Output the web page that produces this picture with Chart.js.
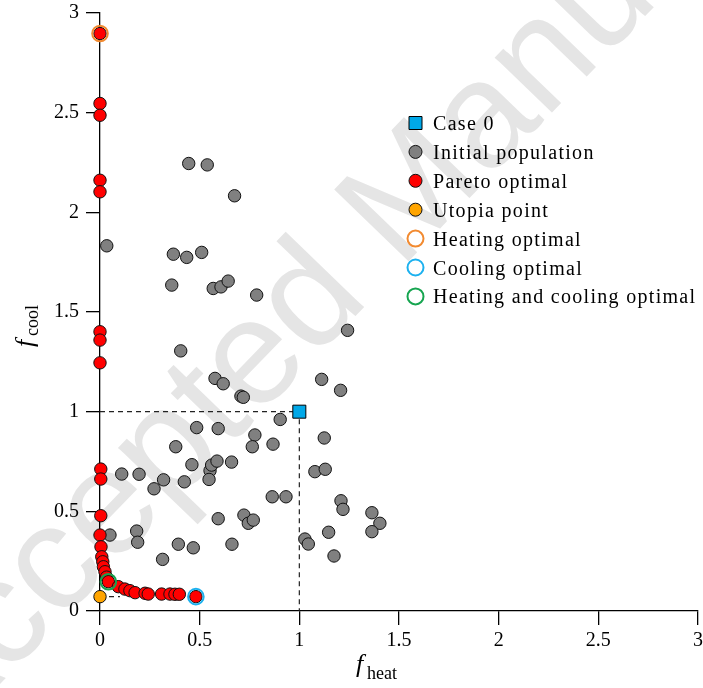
<!DOCTYPE html>
<html lang="en">
<head>
<meta charset="UTF-8">
<title>Pareto front</title>
<script src="https://cdn.jsdelivr.net/npm/chart.js"></script>
<style>
  html, body { margin: 0; padding: 0; background: #fff; }
</style>
</head>
<body>
<canvas id="grafico" width="703" height="688"></canvas>
<script>
  // initial population (f_heat, f_cool)
  const popHeat = [0.034, 0.445, 0.538, 0.675, 0.368, 0.435, 0.510, 0.360, 0.568, 0.607, 0.643, 0.786,
    0.405, 1.242, 0.577, 0.618, 0.707, 0.719, 1.112, 1.207, 0.904, 0.485, 0.593, 0.380, 0.777, 0.764,
    0.868, 1.125, 0.461, 0.552, 0.560, 0.587, 0.660, 0.547, 0.423, 0.271, 0.109, 0.196, 0.319, 1.078,
    1.130, 0.864, 0.933, 1.209, 1.219, 1.364, 1.404, 1.364, 0.722, 0.744, 0.769, 0.593, 0.662, 1.147,
    1.174, 1.028, 1.045, 0.050, 0.184, 0.189, 0.393, 0.468, 0.314];
  const popCool = [1.832, 2.245, 2.238, 2.083, 1.790, 1.774, 1.799, 1.635, 1.618, 1.626, 1.655, 1.585,
    1.305, 1.408, 1.167, 1.140, 1.078, 1.072, 1.162, 1.107, 0.961, 0.920, 0.915, 0.824, 0.883, 0.824,
    0.837, 0.868, 0.734, 0.704, 0.732, 0.752, 0.747, 0.660, 0.648, 0.613, 0.687, 0.686, 0.658, 0.699,
    0.711, 0.573, 0.573, 0.553, 0.510, 0.493, 0.440, 0.398, 0.481, 0.440, 0.456, 0.463, 0.335, 0.395,
    0.276, 0.361, 0.336, 0.381, 0.401, 0.345, 0.335, 0.317, 0.259];

  // pareto optimal set
  const paretoHeat = [0, 0, 0, 0, 0, 0, 0, 0, 0.004, 0.004, 0.004, 0, 0.005, 0.009, 0.014, 0.017, 0.025,
    0.033, 0.042, 0.092, 0.125, 0.150, 0.176, 0.226, 0.242, 0.309, 0.351, 0.376, 0.398, 0.481];
  const paretoCool = [2.897, 2.546, 2.487, 2.161, 2.103, 1.401, 1.359, 1.245, 0.712, 0.662, 0.478, 0.381,
    0.322, 0.272, 0.247, 0.222, 0.197, 0.170, 0.147, 0.122, 0.110, 0.102, 0.092, 0.089, 0.085, 0.085,
    0.085, 0.084, 0.084, 0.072];

  const case0 = [1, 1];
  const utopia = [0, 0.072];
  const heatOpt = [0, 2.897];
  const coolOpt = [0.481, 0.072];
  const bothOpt = [0.042, 0.147];

  const tickVals = [0, 0.5, 1, 1.5, 2, 2.5, 3];

  const serif = '"Liberation Serif", "Times New Roman", serif';

  function pts(xs, ys) {
    return xs.map((x, i) => ({ x: x, y: ys[i] }));
  }

  // marca d'agua
  const watermark = {
    id: 'watermark',
    beforeDraw(chart) {
      const c = chart.ctx;
      c.save();
      c.fillStyle = '#fff';
      c.fillRect(0, 0, chart.width, chart.height);
      c.font = '150px "Liberation Sans", sans-serif';
      const pre = c.measureText('Accepted ').width;
      c.translate(400, 270);
      c.rotate(-46 * Math.PI / 180);
      c.fillStyle = '#e5e5e5';
      c.fillText('Accepted Manuscript', -pre, 0);
      c.restore();
    }
  };

  // titulos dos eixos com subscrito
  const axisTitles = {
    id: 'axisTitles',
    afterDraw(chart) {
      const c = chart.ctx;
      c.save();
      c.fillStyle = '#000';
      c.textBaseline = 'alphabetic';
      c.font = 'italic 26px ' + serif;
      c.fillText('f', 356, 672);
      c.font = '18px ' + serif;
      c.fillText('heat', 367, 679);

      c.translate(33, 347);
      c.rotate(-Math.PI / 2);
      c.font = 'italic 26px ' + serif;
      c.fillText('f', 0, 0);
      c.font = '18px ' + serif;
      c.fillText('cool', 11, 5);
      c.restore();
    }
  };

  // legenda dentro da area
  const legendBox = {
    id: 'legendBox',
    afterDraw(chart) {
      const c = chart.ctx;
      const items = chart.data.datasets.filter(d => d.inLegend !== false);
      c.save();
      c.font = '20px ' + serif;
      c.letterSpacing = '1.3px';
      c.textBaseline = 'alphabetic';
      items.forEach((d, i) => {
        const y = 123 + i * 28.9;
        const x = 415.5;
        c.lineWidth = d.borderWidth;
        c.strokeStyle = d.borderColor;
        c.fillStyle = d.backgroundColor;
        c.beginPath();
        if (d.pointStyle === 'rect') {
          c.rect(x - 6.5, y - 6.5, 13, 13);
        } else if (d.backgroundColor === 'transparent') {
          c.arc(x, y, 8, 0, Math.PI * 2);
        } else {
          c.arc(x, y, 6.5, 0, Math.PI * 2);
        }
        if (d.backgroundColor !== 'transparent') c.fill();
        c.stroke();
        c.fillStyle = '#000';
        c.fillText(d.label, 433, y + 7);
      });
      c.restore();
    }
  };

  const escala = (pos) => ({
    type: 'linear',
    position: pos,
    min: 0,
    max: 3,
    afterBuildTicks: s => { s.ticks = tickVals.map(v => ({ value: v })); },
    afterFit: s => {
      if (pos === 'left') s.width = 100;
      else s.height = 77;
      s.paddingLeft = 0;
      s.paddingRight = 0;
      s.paddingTop = 0;
      s.paddingBottom = 0;
    },
    grid: {
      drawOnChartArea: false,
      drawTicks: true,
      tickLength: 14,
      color: '#000',
      lineWidth: 1.3
    },
    border: { display: true, color: '#000', width: 1.3 },
    ticks: {
      color: '#000',
      padding: pos === 'left' ? 7 : 4,
      font: { family: serif, size: 20 },
      callback: v => String(v)
    }
  });

  const ctx = document.getElementById('grafico').getContext('2d');

  new Chart(ctx, {
    type: 'scatter',
    data: {
      datasets: [
        {
          label: 'Case 0',
          data: [{ x: case0[0], y: case0[1] }],
          pointStyle: 'rect',
          pointRadius: 9.2,
          backgroundColor: '#00a8e8',
          borderColor: '#000',
          borderWidth: 1,
          order: 0
        },
        {
          label: 'Initial population',
          data: pts(popHeat, popCool),
          pointRadius: 6.2,
          backgroundColor: '#808080',
          borderColor: '#111',
          borderWidth: 1,
          order: 5
        },
        {
          label: 'Pareto optimal',
          data: pts(paretoHeat, paretoCool),
          pointRadius: 6.2,
          backgroundColor: '#ff0000',
          borderColor: '#111',
          borderWidth: 1,
          order: 4
        },
        {
          label: 'Utopia point',
          data: [{ x: utopia[0], y: utopia[1] }],
          pointRadius: 6.2,
          backgroundColor: '#ffa500',
          borderColor: '#111',
          borderWidth: 1,
          order: 3
        },
        {
          label: 'Heating optimal',
          data: [{ x: heatOpt[0], y: heatOpt[1] }],
          pointRadius: 7.8,
          backgroundColor: 'transparent',
          borderColor: '#f28a30',
          borderWidth: 2,
          order: 1
        },
        {
          label: 'Cooling optimal',
          data: [{ x: coolOpt[0], y: coolOpt[1] }],
          pointRadius: 7.8,
          backgroundColor: 'transparent',
          borderColor: '#1cb1ef',
          borderWidth: 2,
          order: 1
        },
        {
          label: 'Heating and cooling optimal',
          data: [{ x: bothOpt[0], y: bothOpt[1] }],
          pointRadius: 7.8,
          backgroundColor: 'transparent',
          borderColor: '#16a550',
          borderWidth: 2,
          order: 1
        },
        {
          type: 'line',
          label: 'case0 guide',
          inLegend: false,
          data: [{ x: 0, y: case0[1] }, { x: case0[0], y: case0[1] }, { x: case0[0], y: 0 }],
          borderColor: '#222',
          borderWidth: 1.2,
          borderDash: [5, 4],
          pointRadius: 0,
          fill: false,
          order: 6
        },
        {
          type: 'line',
          label: 'utopia guide',
          inLegend: false,
          data: [{ x: utopia[0], y: utopia[1] }, { x: 0.1, y: utopia[1] }],
          borderColor: '#222',
          borderWidth: 1.2,
          borderDash: [5, 4],
          pointRadius: 0,
          fill: false,
          order: 6
        }
      ]
    },
    options: {
      responsive: false,
      animation: false,
      events: [],
      clip: false,
      layout: { autoPadding: false, padding: { top: 13, right: 5, left: 0, bottom: 0 } },
      plugins: {
        legend: { display: false },
        tooltip: { enabled: false }
      },
      scales: {
        x: escala('bottom'),
        y: escala('left')
      }
    },
    plugins: [watermark, axisTitles, legendBox]
  });
</script>
</body>
</html>
